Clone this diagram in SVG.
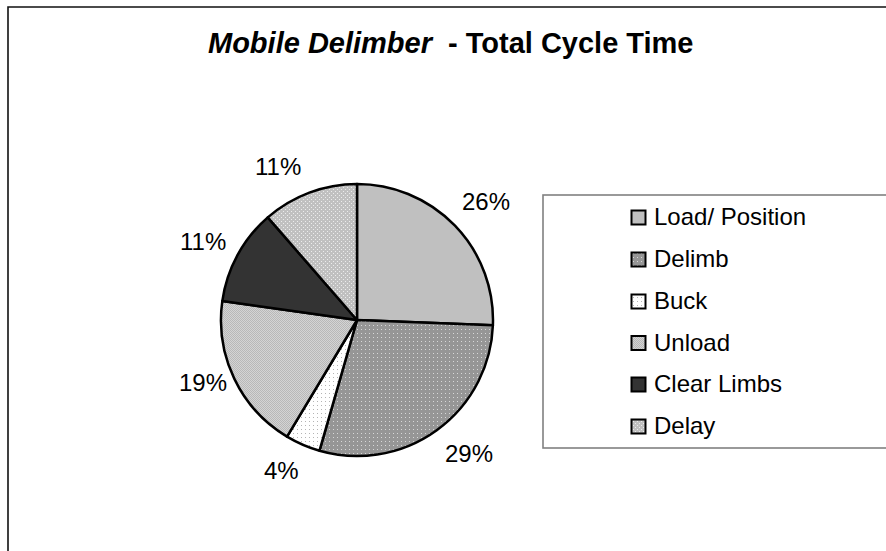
<svg xmlns="http://www.w3.org/2000/svg" width="886" height="551" viewBox="0 0 886 551">
<style>
.t{font-family:"Liberation Sans",Arial,sans-serif;fill:#000}
.lbl{font-size:24px}
.leg{font-size:24px}
.sl{stroke:#000;stroke-width:2.5;stroke-linejoin:round}
.sq{stroke:#000;stroke-width:2}
</style>
<defs>
<pattern id="pDelimb" width="4" height="4" patternUnits="userSpaceOnUse">
<rect width="4" height="4" fill="#969696"/>
<rect x="1" y="1" width="1" height="1" fill="#d8d8d8"/>
</pattern>
<pattern id="pBuck" width="4" height="4" patternUnits="userSpaceOnUse">
<rect width="4" height="4" fill="#ffffff"/>
<rect x="1" y="1" width="1" height="1" fill="#b4b4b4"/>
</pattern>
<pattern id="pUnload" width="2" height="2" patternUnits="userSpaceOnUse">
<rect width="2" height="2" fill="#d4d4d4"/>
<rect width="1" height="1" fill="#b8b8b8"/>
<rect x="1" y="1" width="1" height="1" fill="#b8b8b8"/>
</pattern>
<pattern id="pDelay" width="4" height="4" patternUnits="userSpaceOnUse">
<rect width="4" height="4" fill="#c0c0c0"/>
<rect x="1" y="1" width="1" height="1" fill="#ececec"/>
<rect x="3" y="3" width="1" height="1" fill="#ececec"/>
</pattern>
</defs>

<path d="M8,551 V7 H886" fill="none" stroke="#111" stroke-width="1.6"/>

<g id="title">
<text class="t" x="208" y="53" font-size="29" font-weight="bold" font-style="italic">Mobile Delimber</text>
<text class="t" x="448" y="53" font-size="29" font-weight="bold">- Total Cycle Time</text>
</g>

<g id="pie">
<g id="slice-load"><path class="sl" fill="#c0c0c0" d="M357,320 L357,184 A136,136 0 0 1 492.9,325.2 Z"/></g>
<g id="slice-delimb"><path class="sl" fill="url(#pDelimb)" d="M357,320 L492.9,325.2 A136,136 0 0 1 319.5,450.7 Z"/></g>
<g id="slice-buck"><path class="sl" fill="url(#pBuck)" d="M357,320 L319.5,450.7 A136,136 0 0 1 287,436.6 Z"/></g>
<g id="slice-unload"><path class="sl" fill="url(#pUnload)" d="M357,320 L287,436.6 A136,136 0 0 1 222.3,301.1 Z"/></g>
<g id="slice-clear"><path class="sl" fill="#333333" d="M357,320 L222.3,301.1 A136,136 0 0 1 267.8,217.4 Z"/></g>
<g id="slice-delay"><path class="sl" fill="url(#pDelay)" d="M357,320 L267.8,217.4 A136,136 0 0 1 357,184 Z"/></g>
</g>

<g id="labels">
<text class="t lbl" x="462" y="210">26%</text>
<text class="t lbl" x="445" y="462">29%</text>
<text class="t lbl" x="264" y="479">4%</text>
<text class="t lbl" x="179" y="391">19%</text>
<text class="t lbl" x="180" y="250">11%</text>
<text class="t lbl" x="255" y="175">11%</text>
</g>

<g id="legend">
<rect x="543" y="195" width="360" height="253" fill="#fff" stroke="#808080" stroke-width="1.6"/>
<g id="leg-load"><rect class="sq" x="631.5" y="210.5" width="14" height="14" fill="#c0c0c0"/><text class="t leg" x="654" y="225">Load/ Position</text></g>
<g id="leg-delimb"><rect class="sq" x="631.5" y="252.5" width="14" height="14" fill="url(#pDelimb)"/><text class="t leg" x="654" y="267">Delimb</text></g>
<g id="leg-buck"><rect class="sq" x="631.5" y="294.5" width="14" height="14" fill="url(#pBuck)"/><text class="t leg" x="654" y="309">Buck</text></g>
<g id="leg-unload"><rect class="sq" x="631.5" y="336" width="14" height="14" fill="url(#pUnload)"/><text class="t leg" x="654" y="350.5">Unload</text></g>
<g id="leg-clear"><rect class="sq" x="631.5" y="377.5" width="14" height="14" fill="#333333"/><text class="t leg" x="654" y="392">Clear Limbs</text></g>
<g id="leg-delay"><rect class="sq" x="631.5" y="419.5" width="14" height="14" fill="url(#pDelay)"/><text class="t leg" x="654" y="434">Delay</text></g>
</g>
</svg>
